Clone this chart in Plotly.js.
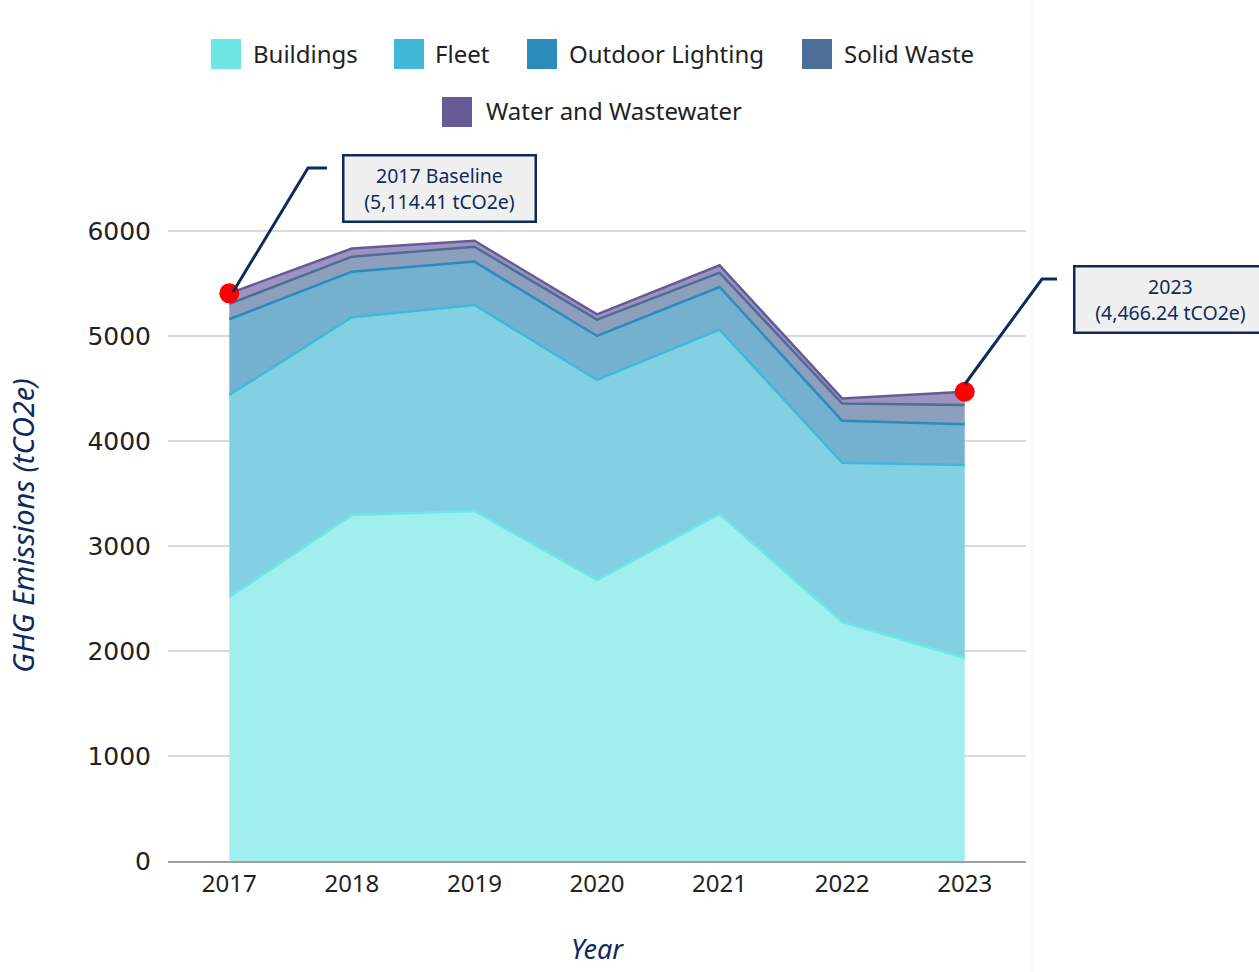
<!DOCTYPE html>
<html>
<head>
<meta charset="utf-8">
<script src="https://cdn.plot.ly/plotly-3.0.1.min.js"></script>
<style>html,body{margin:0;padding:0;background:#fff;}#chart{width:1259px;height:972px;}</style>
</head>
<body>
<div id="chart"></div>
<script>
// ---- data ----
const years = [2017, 2018, 2019, 2020, 2021, 2022, 2023];
const seriesNames = ["Buildings", "Fleet", "Outdoor Lighting", "Solid Waste", "Water and Wastewater"];
const buildings = [2514, 3295, 3333, 2676, 3305, 2276, 1933];
const fleet = [1924, 1883, 1962, 1905, 1755, 1517, 1838];
const outdoorLighting = [721, 434, 413, 419, 406, 400, 388];
const solidWaste = [146, 143, 142, 155, 137, 164, 184];
const waterWastewater = [101, 78, 57, 50, 70, 48, 126];
const yTicks = [0, 1000, 2000, 3000, 4000, 5000, 6000];
const calloutYears = [2017, 2023];
const calloutTexts = ["2017 Baseline<br>(5,114.41 tCO2e)", "2023<br>(4,466.24 tCO2e)"];

// ---- styles ----
const lineColors = ["#6ee6e6", "#42b8d8", "#2b8bbb", "#4d6d99", "#665b95"];
const fillColors = ["#a0eeee", "#82d0e2", "#74b0d0", "#8c9fbc", "#9d93c0"];
const navy = "#0f2a5c";

const values = [buildings, fleet, outdoorLighting, solidWaste, waterWastewater];
const traces = values.map((v, i) => ({
  type: "scatter", mode: "lines", name: seriesNames[i], x: years, y: v,
  stackgroup: "ghg", fillcolor: fillColors[i],
  line: {color: lineColors[i], width: 2.5},
  showlegend: false, hoverinfo: "x+y+name"
}));

const totals = years.map((_, j) => values.reduce((s, v) => s + v[j], 0));
const calloutTotals = calloutYears.map(y => totals[years.indexOf(y)]);
traces.push({
  type: "scatter", mode: "markers", x: calloutYears, y: calloutTotals,
  marker: {color: "#ff0000", size: 20}, cliponaxis: false, showlegend: false, hoverinfo: "skip"
});

// plot area in pixels: left 168, right 1026, top 190, bottom 861
const L = 168, R = 1026, T = 190, B = 861;
const px = x => (x - L) / (R - L);
const py = y => (B - y) / (B - T);

const shapes = [];
const annotations = [];

// custom legend (square swatches)
const legendItems = [
  {sx: 211, tx: 251, cy: 54},
  {sx: 394, tx: 433, cy: 54},
  {sx: 527, tx: 567, cy: 54},
  {sx: 802, tx: 842, cy: 54},
  {sx: 442, tx: 484, cy: 112}
];
legendItems.forEach((it, i) => {
  shapes.push({type: "rect", xref: "paper", yref: "paper",
    x0: px(it.sx), x1: px(it.sx + 30), y0: py(it.cy + 15), y1: py(it.cy - 15),
    fillcolor: lineColors[i], line: {width: 0}});
  annotations.push({xref: "paper", yref: "paper", x: px(it.tx), y: py(it.cy - 1),
    xanchor: "left", yanchor: "middle", showarrow: false, text: seriesNames[i],
    font: {family: "Noto Sans", size: 24, color: "#222222"}});
});

// callout connectors
const connectors = [
  [[233, 292], [308, 168], [327, 168]],
  [[965, 384], [1042, 279], [1057, 279]]
];
connectors.forEach(pts => {
  const d = pts.map((p, k) => (k ? "L" : "M") + px(p[0]) + "," + py(p[1])).join(" ");
  shapes.push({type: "path", xref: "paper", yref: "paper", path: d, line: {color: navy, width: 3}});
});
// faint frame line on the right
shapes.push({type: "line", xref: "paper", yref: "paper", x0: px(1032), x1: px(1032), y0: py(972), y1: py(0), line: {color: "#f2f2f2", width: 1}, layer: "below"});

// callout boxes
const boxCenters = [[439.5, 189], [1170, 299]];
calloutTexts.forEach((t, i) => {
  annotations.push({xref: "paper", yref: "paper", x: px(boxCenters[i][0]), y: py(boxCenters[i][1]),
    xanchor: "center", yanchor: "middle", showarrow: false, text: t,
    width: 186, height: 60, borderpad: 2,
    bgcolor: "#f0f0f0", bordercolor: navy, borderwidth: 2.5,
    font: {family: "Noto Sans", size: 19.5, color: navy}});
});

const layout = {
  width: 1259, height: 972,
  margin: {l: L, r: 1259 - R, t: T, b: 972 - B},
  paper_bgcolor: "#ffffff", plot_bgcolor: "#ffffff",
  showlegend: false,
  xaxis: {
    range: [2016.5, 2023.5], tickvals: years, ticktext: years.map(String),
    showgrid: false, zeroline: false, showline: true, linecolor: "#a0a0a0", linewidth: 2,
    ticks: "", tickfont: {family: "Noto Sans", size: 24, color: "#222222"},
    title: {text: "Year", standoff: 42, font: {family: "Noto Sans", size: 27, color: navy, style: "italic"}}
  },
  yaxis: {
    range: [0, 6390], tickvals: yTicks, ticktext: yTicks.map(String),
    showgrid: true, gridcolor: "#d9d9d9", gridwidth: 1.5, zeroline: false, showline: false,
    ticks: "", ticklabelstandoff: 16,
    tickfont: {family: "DejaVu Sans", size: 25, color: "#222222"},
    title: {text: "GHG Emissions (tCO2e)", standoff: 44, font: {family: "Noto Sans", size: 29, color: navy, style: "italic"}}
  },
  shapes: shapes,
  annotations: annotations
};

Plotly.newPlot("chart", traces, layout, {displayModeBar: false, staticPlot: true});
</script>
</body>
</html>
